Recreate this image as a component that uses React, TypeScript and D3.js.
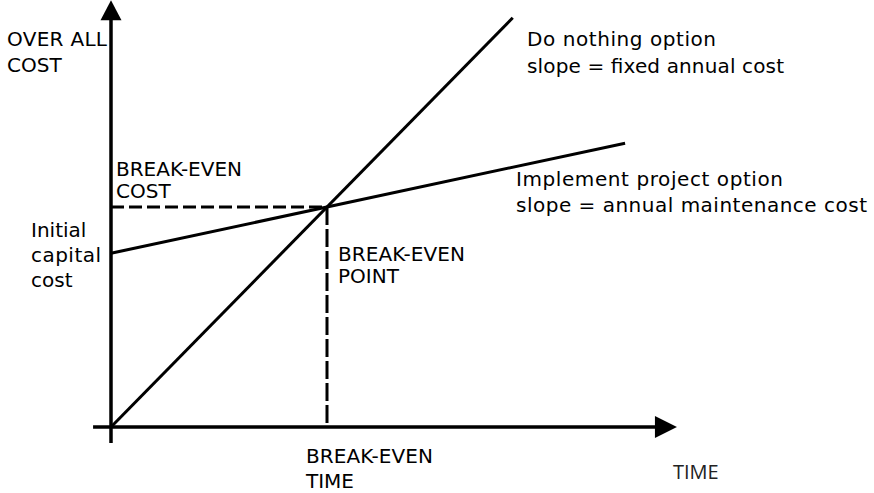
import React from 'react';
import * as d3 from 'd3';

// cost lines, in (time, cost) units
const doNothing: [number, number][] = [[0, 0], [18.6, 18.6]];
const implement: [number, number][] = [[0, 7.9], [23.8, 12.9]];
const breakEven: [number, number] = [10, 10];

// how far the axes run, in data units
const xAxisExtent = [-0.83, 26.2];
const yAxisExtent = [-0.73, 19.4];

const W = 874;
const H = 493;
const FONT = "'DejaVu Sans', sans-serif";

// [text, width in px] — the original uses a wide geometric face, so stretch spacing to fit
// (0 = leave natural width)
type Line = [string, number];

const App = () => {
  const x = d3.scaleLinear().domain([0, 10]).range([111, 327]);
  const y = d3.scaleLinear().domain([0, 10]).range([427, 207]);

  const line = d3.line<[number, number]>()
    .x(d => x(d[0]))
    .y(d => y(d[1]));

  const x0 = x(0);
  const y0 = y(0);
  const xEnd = x(xAxisExtent[1]);
  const yTop = y(yAxisExtent[1]);

  // arrow heads
  const xArrow = [[xEnd, y0], [xEnd - 22, y0 - 11], [xEnd - 22, y0 + 11]];
  const yArrow = [[x0, yTop], [x0 - 10.5, yTop + 20], [x0 + 10.5, yTop + 20]];

  const bx = x(breakEven[0]);
  const by = y(breakEven[1]);

  const label = (lines: Line[], lx: number, ly: number, dy = 25) => (
    <g>
      {lines.map(([t, w], i) => (
        <text key={i} x={lx} y={ly + i * dy} fontFamily={FONT} fontSize={20} fill="#000"
          textLength={w || undefined} lengthAdjust={w ? 'spacing' : undefined}>{t}</text>
      ))}
    </g>
  );

  return (
    <svg width={W} height={H} style={{ position: 'absolute', left: 0, top: 0, background: '#fff' }}>
      {/* dashed guides */}
      <line x1={x0} y1={by} x2={bx} y2={by} stroke="#000" strokeWidth={3} strokeDasharray="13 5" />
      <line x1={bx} y1={by} x2={bx} y2={y0} stroke="#000" strokeWidth={3} strokeDasharray="18 4" />

      {/* axes */}
      <line x1={x(xAxisExtent[0])} y1={y0} x2={xEnd - 20} y2={y0} stroke="#000" strokeWidth={3.5} />
      <line x1={x0} y1={y(yAxisExtent[0])} x2={x0} y2={yTop + 18} stroke="#000" strokeWidth={3.5} />
      <polygon points={xArrow.map(p => p.join(',')).join(' ')} fill="#000" />
      <polygon points={yArrow.map(p => p.join(',')).join(' ')} fill="#000" />

      {/* cost lines */}
      <path d={line(doNothing) || ''} fill="none" stroke="#000" strokeWidth={3} />
      <path d={line(implement) || ''} fill="none" stroke="#000" strokeWidth={3} />

      {/* labels */}
      {label([['OVER ALL', 100], ['COST', 0]], 7, 46, 26)}
      {label([['BREAK-EVEN', 126], ['COST', 0]], 116, 176, 22)}
      {label([['Initial', 0], ['capital', 70], ['cost', 0]], 31, 237)}
      {label([['BREAK-EVEN', 127], ['POINT', 0]], 338, 261, 22)}
      {label([['BREAK-EVEN', 127], ['TIME', 0]], 306, 463, 25)}
      {label([['Do nothing option', 189], ['slope = fixed annual cost', 257]], 527, 46, 26.5)}
      {label([['Implement project option', 267], ['slope = annual maintenance cost', 351]], 516, 186, 26)}
      <text x={673} y={479} fontFamily="'Open Sans', sans-serif" fontSize={20} fill="#222">TIME</text>
    </svg>
  );
};

export default App;
